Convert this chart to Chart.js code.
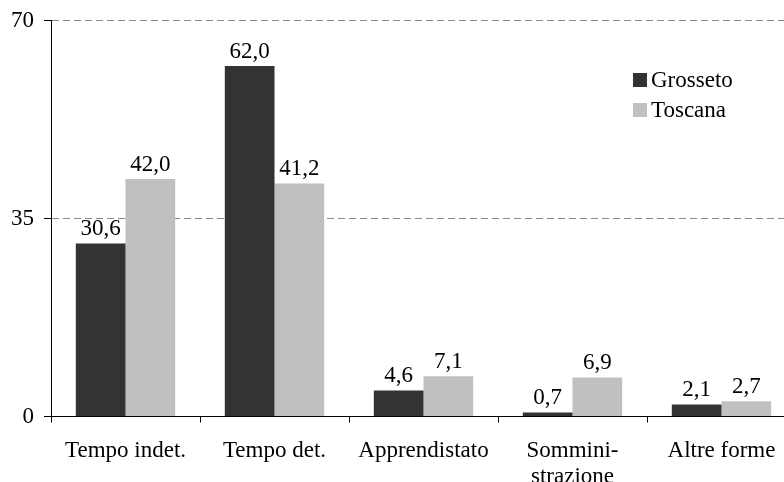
<!DOCTYPE html>
<html>
<head>
<meta charset="utf-8">
<script src="https://cdn.jsdelivr.net/npm/chart.js@4"></script>
<style>
  html, body { margin: 0; padding: 0; background: #fff; overflow: hidden; }
  #wrap { width: 784px; height: 482px; overflow: hidden; }
  #js--chart { margin-top: -3px; display: block; }
</style>
</head>
<body>
<div id="wrap"><canvas id="js--chart" width="800" height="509"></canvas></div>
<script>
const categorie = [
    "Tempo indet.",
    "Tempo det.",
    "Apprendistato",
    ["Sommini-", "strazione"],
    "Altre forme"
];
const grosseto = [30.6, 62.0, 4.6, 0.7, 2.1];
const toscana = [42.0, 41.2, 7.1, 6.9, 2.7];
const yTicks = [0, 35, 70];

const fontFam = "'Liberation Serif', 'Times New Roman', serif";
const fontSize = 23;

// etichette sopra le barre
const valori = {
    id: 'valori',
    afterDatasetsDraw(chart) {
        const ctx = chart.ctx;
        ctx.save();
        ctx.font = fontSize + "px " + fontFam;
        ctx.fillStyle = "#000";
        ctx.textAlign = "center";
        ctx.textBaseline = "bottom";
        chart.data.datasets.forEach((ds, i) => {
            chart.getDatasetMeta(i).data.forEach((bar, j) => {
                ctx.fillText(ds.data[j].toFixed(1).replace(".", ","), bar.x, bar.y - 3);
            });
        });
        ctx.restore();
    }
};

// legenda dentro il grafico
const legenda = {
    id: 'legenda',
    afterDraw(chart) {
        const ctx = chart.ctx;
        ctx.save();
        ctx.font = fontSize + "px " + fontFam;
        ctx.textBaseline = "middle";
        chart.data.datasets.forEach((ds, i) => {
            const y = 83 + i * 30;
            ctx.fillStyle = ds.backgroundColor;
            ctx.fillRect(633, y - 7, 14, 14);
            ctx.fillStyle = "#000";
            ctx.fillText(ds.label, 651, y + 1);
        });
        ctx.restore();
    }
};

const data = {
    labels: categorie,
    datasets: [
        { label: "Grosseto", data: grosseto, backgroundColor: "#333333" },
        { label: "Toscana", data: toscana, backgroundColor: "#c0c0c0" }
    ]
};

const config = {
    type: 'bar',
    data: data,
    options: {
        responsive: false,
        animation: false,
        layout: { padding: { left: 1, top: 15, right: 4, bottom: 0 } },
        datasets: { bar: { categoryPercentage: 0.667, barPercentage: 1 } },
        plugins: { legend: { display: false }, tooltip: { enabled: false } },
        scales: {
            x: {
                border: { color: "#000", width: 1 },
                grid: { drawOnChartArea: false, color: "#000", tickLength: 6 },
                ticks: { color: "#000", font: { family: fontFam, size: fontSize, lineHeight: 1.12 }, padding: 16, maxRotation: 0 }
            },
            y: {
                min: 0,
                max: 70,
                afterBuildTicks(scale) { scale.ticks = yTicks.map(v => ({ value: v })); },
                border: { color: "#000", width: 1, dash: [7, 4] },
                grid: {
                    color: ctx => ctx.tick && ctx.tick.value === 0 ? "rgba(0,0,0,0)" : "#888",
                    tickColor: "#000",
                    tickBorderDash: [],
                    tickLength: 7
                },
                ticks: { color: "#000", font: { family: fontFam, size: fontSize }, padding: 10 }
            }
        }
    },
    plugins: [valori, legenda]
};

new Chart(document.getElementById("js--chart"), config);
</script>
</body>
</html>
